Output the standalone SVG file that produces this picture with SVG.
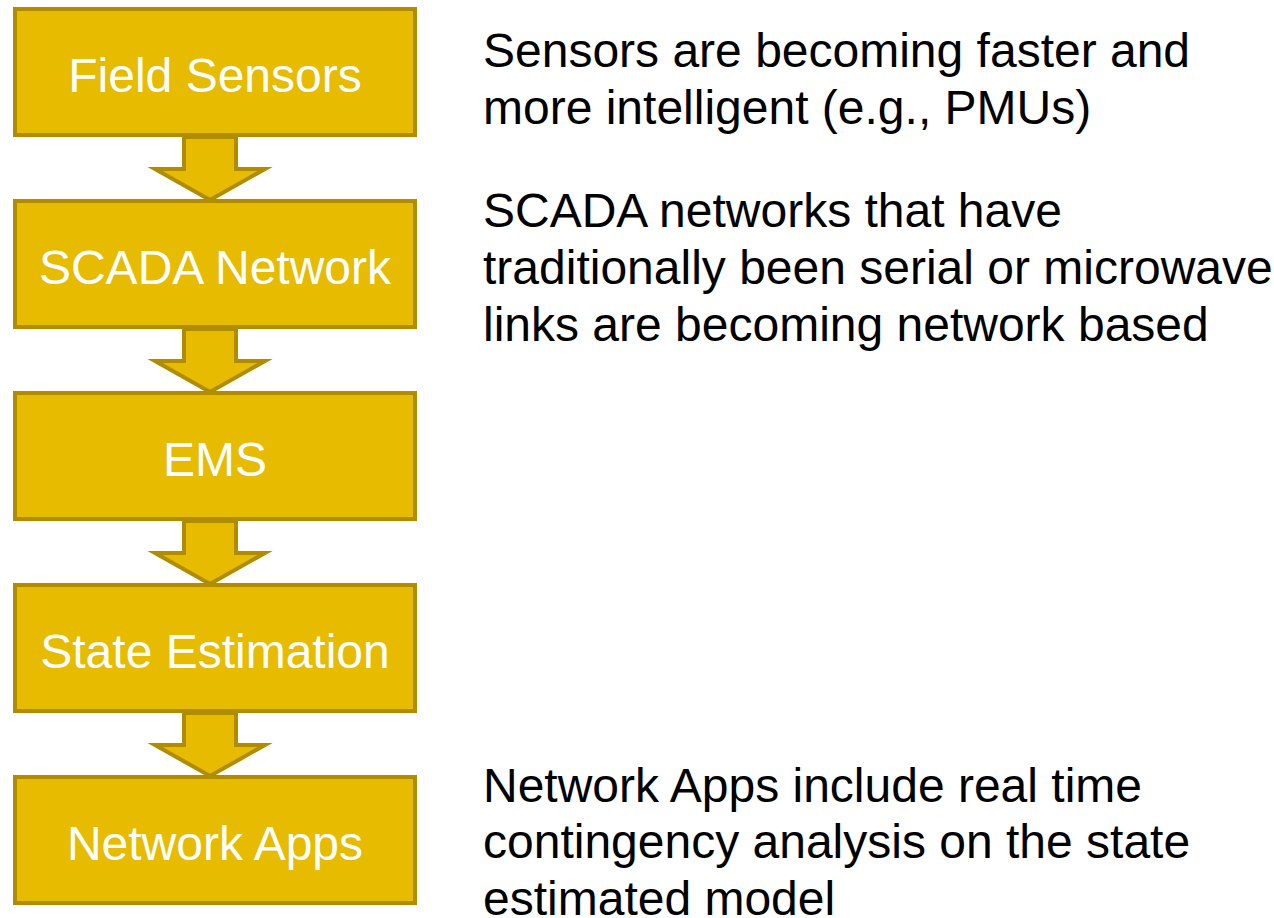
<svg xmlns="http://www.w3.org/2000/svg" width="1274" height="918" viewBox="0 0 1274 918">
  <style>
    .box { fill: #E6BB00; stroke: #B08C00; stroke-width: 4; }
    .arrow { fill: #E6BB00; stroke: #B08C00; stroke-width: 4; stroke-linejoin: miter; }
    .label { font-family: "Liberation Sans", Arial, sans-serif; font-size: 48px; fill: #FFFFFF; text-anchor: middle; }
    .note { font-family: "Liberation Sans", Arial, sans-serif; font-size: 48px; fill: #000000; }
  </style>
  <defs>
    <!-- block arrow between consecutive stages, drawn from y=0 (bottom of upper box) -->
    <polygon id="downArrow" class="arrow" points="184,0 236,0 236,32 265,32 210,63 155,32 184,32"/>
  </defs>
  <rect width="1274" height="918" fill="#FFFFFF"/>

  <!-- connectors -->
  <g id="connectors">
    <use href="#downArrow" transform="translate(0,137)"/>
    <use href="#downArrow" transform="translate(0,329)"/>
    <use href="#downArrow" transform="translate(0,521)"/>
    <use href="#downArrow" transform="translate(0,713)"/>
  </g>

  <!-- stages -->
  <g id="field-sensors">
    <rect class="box" x="15" y="9" width="400" height="126"/>
    <text class="label" x="215" y="92">Field Sensors</text>
  </g>
  <g id="scada-network">
    <rect class="box" x="15" y="201" width="400" height="126"/>
    <text class="label" x="215" y="284">SCADA Network</text>
  </g>
  <g id="ems">
    <rect class="box" x="15" y="393" width="400" height="126"/>
    <text class="label" x="215" y="476">EMS</text>
  </g>
  <g id="state-estimation">
    <rect class="box" x="15" y="585" width="400" height="126"/>
    <text class="label" x="215" y="668">State Estimation</text>
  </g>
  <g id="network-apps">
    <rect class="box" x="15" y="777" width="400" height="126"/>
    <text class="label" x="215" y="860">Network Apps</text>
  </g>

  <!-- side notes -->
  <g id="note-sensors">
    <text class="note" x="483" y="67">Sensors are becoming faster and</text>
    <text class="note" x="483" y="124">more intelligent (e.g., PMUs)</text>
  </g>
  <g id="note-scada">
    <text class="note" x="483" y="227">SCADA networks that have</text>
    <text class="note" x="483" y="284">traditionally been serial or microwave</text>
    <text class="note" x="483" y="341">links are becoming network based</text>
  </g>
  <g id="note-apps">
    <text class="note" x="483" y="802">Network Apps include real time</text>
    <text class="note" x="483" y="858">contingency analysis on the state</text>
    <text class="note" x="483" y="915">estimated model</text>
  </g>
</svg>
